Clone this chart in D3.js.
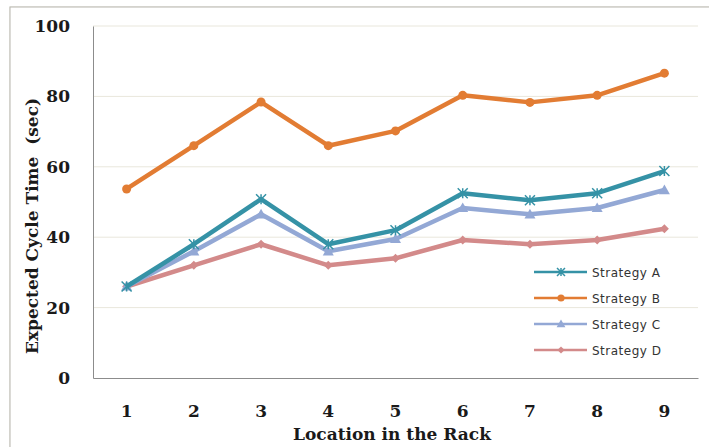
<!DOCTYPE html>
<html><head><meta charset="utf-8">
<script src="https://cdn.jsdelivr.net/npm/d3@7"></script>
<style>body{margin:0;background:#fff;}svg{display:block;}</style>
</head><body>
<svg id="c" width="709" height="447"></svg>
<script>
const categories = ["1","2","3","4","5","6","7","8","9"];
const seriesNames = ["Strategy A","Strategy B","Strategy C","Strategy D"];
const strategyA = [26, 38, 50.8, 38, 42, 52.5, 50.5, 52.5, 58.8];
const strategyB = [53.7, 66, 78.4, 66, 70.2, 80.3, 78.3, 80.3, 86.6];
const strategyC = [26, 36, 46.5, 36, 39.5, 48.3, 46.5, 48.3, 53.4];
const strategyD = [26, 32, 38, 32, 34, 39.2, 38, 39.2, 42.4];
const yTicks = [0, 20, 40, 60, 80, 100];

const colors = ["#3592A6", "#E27C33", "#93A8D5", "#D38A8A"];
const markers = ["star", "circle", "triangle", "diamond"];
const allSeries = [strategyA, strategyB, strategyC, strategyD];
const serif = "DejaVu Serif, Liberation Serif, serif";

const svg = d3.select("#c");
// outer frame
svg.append("rect").attr("x", 11).attr("y", 8).attr("width", 720).attr("height", 460)
  .attr("fill", "none").attr("stroke", "#e4e2da").attr("stroke-width", 3);
svg.append("rect").attr("x", 10).attr("y", 7).attr("width", 720).attr("height", 460)
  .attr("fill", "#fff").attr("stroke", "#b8b6ae").attr("stroke-width", 1);

const L = 93, R = 698, T = 26, B = 378;
const x = d3.scaleBand().domain(categories).range([L, R]);
const y = d3.scaleLinear().domain([0, 100]).range([B, T]);

// gridlines
svg.append("g").selectAll("line").data(yTicks.filter(d => d > 0)).join("line")
  .attr("x1", L).attr("x2", R).attr("y1", d => y(d)).attr("y2", d => y(d))
  .attr("stroke", "#e9e7dc").attr("stroke-width", 1);

// axes
const yAxis = svg.append("g").attr("transform", `translate(${L},0)`)
  .call(d3.axisLeft(y).tickValues(yTicks).tickSize(0).tickPadding(23));
yAxis.select(".domain").attr("stroke", "#8c8c8c");
yAxis.selectAll("text").attr("font-family", serif)
  .attr("font-weight", "bold").attr("font-size", 17).attr("fill", "#1a1a1a");

const xAxis = svg.append("g").attr("transform", `translate(0,${B})`)
  .call(d3.axisBottom(x).tickSize(0).tickPadding(27));
xAxis.select(".domain").attr("stroke", "#8c8c8c");
xAxis.selectAll("text").attr("font-family", serif)
  .attr("font-weight", "bold").attr("font-size", 17).attr("fill", "#1a1a1a");

// axis titles
svg.append("text").attr("x", 392).attr("y", 440).attr("text-anchor", "middle")
  .attr("font-family", serif).attr("font-weight", "bold")
  .attr("font-size", 17).attr("fill", "#1a1a1a").text("Location in the Rack");
svg.append("text").attr("transform", "translate(38,226) rotate(-90)").attr("text-anchor", "middle")
  .attr("font-family", serif).attr("font-weight", "bold")
  .attr("font-size", 17).attr("fill", "#1a1a1a").attr("xml:space", "preserve")
  .text("Expected Cycle Time  (sec)");

function drawMarker(g, type, cx, cy, color, s) {
  if (type === "circle") {
    g.append("circle").attr("cx", cx).attr("cy", cy).attr("r", 4.5 * s).attr("fill", color);
  } else if (type === "triangle") {
    const r = 5.5 * s;
    g.append("path").attr("d", `M${cx},${cy - r}L${cx + r},${cy + r * 0.75}L${cx - r},${cy + r * 0.75}Z`).attr("fill", color);
  } else if (type === "diamond") {
    const r = 4.5 * s;
    g.append("path").attr("d", `M${cx},${cy - r}L${cx + r},${cy}L${cx},${cy + r}L${cx - r},${cy}Z`).attr("fill", color);
  } else {
    const r = 5 * s;
    const p = `M${cx - r},${cy - r}L${cx + r},${cy + r}M${cx - r},${cy + r}L${cx + r},${cy - r}M${cx},${cy - r}L${cx},${cy + r}`;
    g.append("path").attr("d", p).attr("stroke", color).attr("stroke-width", 1.5).attr("fill", "none");
  }
}

const line = d3.line().x((d, i) => x(categories[i]) + x.bandwidth() / 2).y(d => y(d));
// draw order: D, C, A, B (back to front)
[3, 2, 0, 1].forEach(si => {
  const g = svg.append("g");
  g.append("path").datum(allSeries[si]).attr("d", line).attr("fill", "none")
    .attr("stroke", colors[si]).attr("stroke-width", 4.5).attr("stroke-linejoin", "round");
  allSeries[si].forEach((v, i) => drawMarker(g, markers[si], x(categories[i]) + x.bandwidth() / 2, y(v), colors[si], 1));
});

// legend
const legendY = [272, 298, 324, 350];
seriesNames.forEach((n, i) => {
  const g = svg.append("g");
  g.append("line").attr("x1", 534).attr("x2", 587).attr("y1", legendY[i]).attr("y2", legendY[i])
    .attr("stroke", colors[i]).attr("stroke-width", 2.5);
  drawMarker(g, markers[i], 561, legendY[i], colors[i], 0.8);
  g.append("text").attr("x", 592).attr("y", legendY[i] + 4.5)
    .attr("font-family", "DejaVu Sans, Verdana, sans-serif").attr("font-size", 12)
    .attr("letter-spacing", 0.5).attr("fill", "#333").text(n);
});
</script>
</body></html>
